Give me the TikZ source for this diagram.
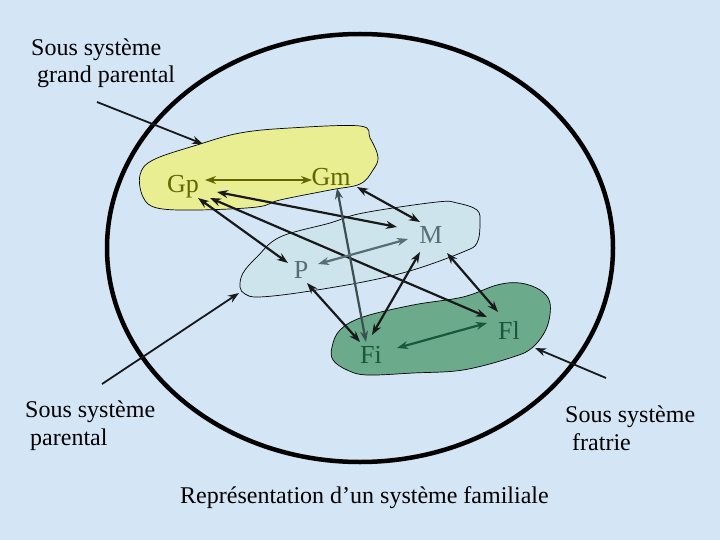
\documentclass[tikz,border=0pt]{standalone}
\usepackage{fontspec}
\setmainfont{Liberation Serif}
\usetikzlibrary{arrows.meta,calc}
\definecolor{bg}{RGB}{212,229,246}
\definecolor{yel}{RGB}{232,238,145}
\definecolor{blu}{RGB}{205,228,236}
\definecolor{grn}{RGB}{108,170,140}
\definecolor{olive}{RGB}{100,100,0}
\definecolor{slate}{RGB}{88,110,115}
\definecolor{dgreen}{RGB}{25,88,58}
\definecolor{ink}{RGB}{25,25,25}
\definecolor{gline}{RGB}{60,80,82}
\tikzset{
  rel/.style={line width=2.2pt,draw=ink,{Stealth[length=11pt,width=8pt]}-{Stealth[length=11pt,width=8pt]}},
  ptr/.style={line width=1.8pt,draw=ink,-{Stealth[length=11pt,width=8pt]}},
  lbl/.style={font=\fontsize{26}{31}\selectfont,inner sep=0pt},
  txt/.style={font=\fontsize{24}{29}\selectfont,inner sep=0pt,anchor=base west,text=black},
  blob/.style={draw=black,line width=0.7pt}
}
\begin{document}
\begin{tikzpicture}[x=1pt,y=-1pt]
\fill[bg] (0,0) rectangle (720,540);
\useasboundingbox (0,0) rectangle (720,540);
% outer ellipse
\draw[line width=4.5pt,black] (360,248) ellipse[x radius=253,y radius=214];
% blobs
\draw[blob,fill=yel] plot[smooth cycle,tension=0.6] coordinates {(140,175) (153,160) (197,145) (240,133) (290,128) (360,126) (370,138) (378,157) (373,170) (360,184) (330,190) (280,200) (257,207) (197,210) (157,208) (143,197)};
\draw[blob,fill=blu] plot[smooth cycle,tension=0.6] coordinates {(240,287) (245,294) (258,297) (297,293) (363,282) (413,270) (463,252) (477,243) (480,223) (477,210) (457,203) (437,202) (363,213) (330,223) (280,237) (257,257) (243,273)};
\draw[blob,fill=grn] plot[smooth cycle,tension=0.6] coordinates {(332,347) (333,360) (347,370) (367,375) (413,373) (463,370) (513,357) (533,347) (547,327) (550,303) (540,290) (520,283) (497,285) (463,297) (413,305) (363,317) (340,330)};
% labels
\node[lbl,text=olive] (Gp) at (183,187) {Gp};
\node[lbl,text=olive] (Gm) at (331,177) {Gm};
\node[lbl,text=slate] (M) at (431,235) {M};
\node[lbl,text=slate] (P) at (301,270) {P};
\node[lbl,text=dgreen] (Fi) at (371,355) {Fi};
\node[lbl,text=dgreen] (Fl) at (509,330) {Fl};
% relations
\draw[rel,draw=olive] ($(Gp)+(22,-7)$) -- ($(Gm)+(-19,3)$);
\draw[rel] ($(Gp)+(34,5)$) -- ($(M)+(-34,-8)$);
\draw[rel] ($(Gp)+(15,11)$) -- ($(P)+(-13,-7)$);
\draw[rel] ($(Gp)+(27,11)$) -- ($(Fl)+(-22,-13)$);
\draw[rel] ($(Gm)+(26,10)$) -- ($(M)+(-11,-13)$);
\draw[rel,draw=gline] ($(Gm)+(6,11)$) -- ($(Fi)+(-5,-13)$);
\draw[rel,draw=slate] ($(P)+(17,-6)$) -- ($(M)+(-23,4)$);
\draw[rel] ($(P)+(6,13)$) -- ($(Fi)+(-11,-13)$);
\draw[rel] ($(M)+(-11,17)$) -- ($(Fi)+(1,-20)$);
\draw[rel] ($(M)+(16,18)$) -- ($(Fl)+(-11,-18)$);
\draw[rel,draw=dgreen] ($(Fi)+(26,-7)$) -- ($(Fl)+(-22,-7)$);
% texts
\node[txt] (t1) at (31,56) {Sous système};
\node[txt] (t1b) at (37,83) {grand parental};
\node[txt] (t2) at (25,417) {Sous système};
\node[txt] (t2b) at (30,445) {parental};
\node[txt] (t3) at (565,422) {Sous système};
\node[txt] (t3b) at (572,450) {fratrie};
\node[txt] (title) at (180,503) {Représentation d’un système familiale};
% pointers
\coordinate (p1s) at (97,102);
\coordinate (p1e) at (203,144);
\coordinate (p2s) at (102,384);
\coordinate (p2e) at (239,293);
\coordinate (p3s) at (606,378);
\coordinate (p3e) at (535,348);
\draw[ptr] (p1s) -- (p1e);
\draw[ptr] (p2s) -- (p2e);
\draw[ptr] (p3s) -- (p3e);
\end{tikzpicture}
\end{document}
